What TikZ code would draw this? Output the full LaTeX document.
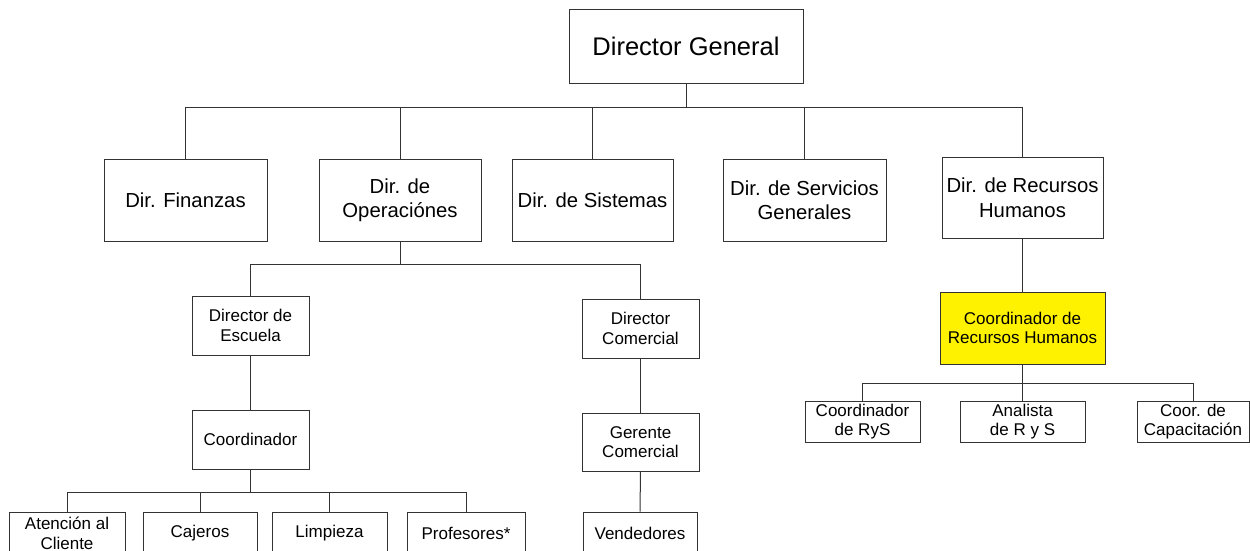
\documentclass[tikz,border=0pt]{standalone}
\usepackage{fontspec}
\setmainfont{Liberation Sans}
\begin{document}
\begin{tikzpicture}[x=1pt,y=-1pt,
  box/.style={draw=black!80, line width=1pt, fill=white, align=center,
    inner sep=1pt, anchor=center},
  topbox/.style={box, font=\fontsize{25.5}{30}\selectfont},
  dirbox/.style={box, font=\fontsize{20.3}{24.5}\selectfont},
  unitbox/.style={box, font=\fontsize{17}{19.5}\selectfont},
  link/.style={draw=black!80, line width=1pt},
  hilite/.style={fill=yellow}]
\useasboundingbox (0,0) rectangle (1250,550);

% bus lines of the tree
\coordinate (busA) at (0,107);
\coordinate (busB) at (0,264);
\coordinate (busC) at (0,492);
\coordinate (busD) at (0,383);

% top
\node[topbox, minimum width=234pt, minimum height=74pt] (dg) at (686,46) {Director General};

% directors
\node[dirbox, minimum width=163pt, minimum height=82pt] (fin) at (185.5,200) {Dir. Finanzas};
\node[dirbox, minimum width=162pt, minimum height=82pt] (ope) at (400,200) {Dir. de\\Operaciónes};
\node[dirbox, minimum width=161pt, minimum height=82pt] (sis) at (592.5,200) {Dir. de Sistemas};
\node[dirbox, minimum width=163pt, minimum height=82pt] (ser) at (804.5,200) {Dir. de Servicios\\Generales};
\node[dirbox, minimum width=161pt, minimum height=81pt] (rh) at (1022.5,197.5) {Dir. de Recursos\\Humanos};

% operations branch
\node[unitbox, minimum width=117pt, minimum height=59pt] (esc) at (250.5,325.5) {Director de\\Escuela};
\node[unitbox, minimum width=117pt, minimum height=59pt] (com) at (640.5,328.5) {Director\\Comercial};
\node[unitbox, minimum width=117pt, minimum height=59pt] (coo) at (250.5,439.5) {Coordinador};
\node[unitbox, minimum width=117pt, minimum height=58pt] (ger) at (640.5,442) {Gerente\\Comercial};
\node[unitbox, minimum width=114pt, minimum height=43pt] (ven) at (640,533.5) {Vendedores};

\node[unitbox, minimum width=116pt, minimum height=43pt] (ate) at (67,533.5) {Atención al\\Cliente};
\node[unitbox, minimum width=114pt, minimum height=43pt] (caj) at (200,533.5) {Cajeros};
\node[unitbox, minimum width=115pt, minimum height=43pt] (lim) at (329.5,533.5) {Limpieza};
\node[unitbox, minimum width=118pt, minimum height=43pt] (pro) at (466,533.5) {Profesores*};

% human resources branch
\node[unitbox, hilite, minimum width=165pt, minimum height=72pt] (crh) at (1022.5,328) {Coordinador de\\Recursos Humanos};
\node[unitbox, minimum width=115pt, minimum height=41pt] (rys) at (862.5,421.5) {Coordinador\\de RyS};
\node[unitbox, minimum width=125pt, minimum height=41pt] (ana) at (1022.5,421.5) {Analista\\de R y S};
\node[unitbox, minimum width=112pt, minimum height=41pt] (cap) at (1193,421.5) {Coor. de\\Capacitación};

% connectors
\foreach \c in {fin,ope,sis,ser,rh}
  \draw[link] (dg.south) -- (dg.south |- busA) -| (\c.north);
\foreach \c in {esc,com}
  \draw[link] (ope.south) -- (ope.south |- busB) -| (\c.north);
\draw[link] (esc.south) -- (coo.north);
\foreach \c in {ate,caj,lim,pro}
  \draw[link] (coo.south) -- (coo.south |- busC) -| (\c.north);
\draw[link] (com.south) -- (ger.north);
\draw[link] (ger.south) -- (ven.north);
\draw[link] (rh.south) -- (crh.north);
\foreach \c in {rys,ana,cap}
  \draw[link] (crh.south) -- (crh.south |- busD) -| (\c.north);
\end{tikzpicture}
\end{document}
